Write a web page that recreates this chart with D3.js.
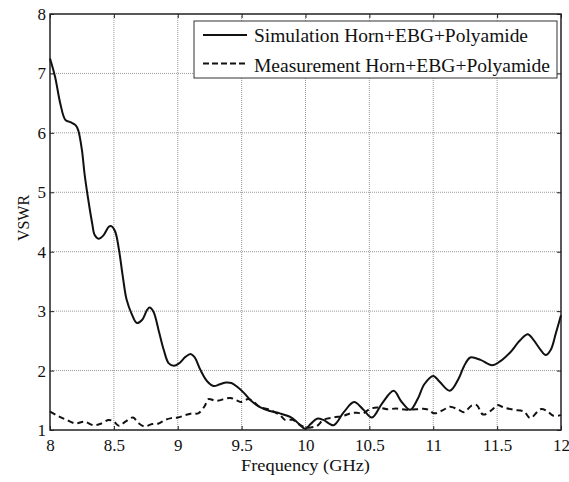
<!DOCTYPE html>
<html>
<head>
<meta charset="utf-8">
<script src="https://cdn.jsdelivr.net/npm/d3@7"></script>
<style>
  body { margin: 0; background: #fff; }
  svg { display: block; }
  text { font-family: "Liberation Serif", "Times New Roman", serif; fill: #111; }
</style>
</head>
<body>
<script>
// data
var simFreq = [8.00, 8.04, 8.08, 8.12, 8.16, 8.20, 8.22, 8.25, 8.27, 8.30, 8.33, 8.35, 8.38, 8.42, 8.46, 8.48,
  8.51, 8.54, 8.57, 8.60, 8.64, 8.68, 8.72, 8.76, 8.78, 8.81, 8.85, 8.89, 8.93, 8.97, 9.01, 9.06, 9.10,
  9.13, 9.18, 9.23, 9.28, 9.33, 9.38, 9.42, 9.47, 9.52, 9.57, 9.64, 9.72, 9.80, 9.88, 9.93, 9.98, 10.00,
  10.04, 10.09, 10.14, 10.22, 10.30, 10.38, 10.45, 10.52, 10.60, 10.69, 10.75, 10.82, 10.88, 10.93, 11.00,
  11.05, 11.13, 11.20, 11.24, 11.29, 11.37, 11.46, 11.52, 11.60, 11.68, 11.74, 11.78, 11.84, 11.88, 11.92,
  11.96, 12.00]
var simVswr = [7.25, 6.94, 6.50, 6.22, 6.18, 6.13, 6.05, 5.71, 5.32, 4.87, 4.48, 4.28, 4.22, 4.28, 4.42, 4.43,
  4.34, 4.03, 3.58, 3.19, 2.95, 2.80, 2.85, 3.02, 3.06, 2.99, 2.68, 2.35, 2.12, 2.08, 2.12, 2.23, 2.28,
  2.23, 2.00, 1.82, 1.74, 1.77, 1.80, 1.79, 1.72, 1.62, 1.50, 1.39, 1.32, 1.28, 1.22, 1.14, 1.04, 1.02,
  1.10, 1.19, 1.17, 1.08, 1.30, 1.47, 1.35, 1.21, 1.45, 1.66, 1.48, 1.34, 1.53, 1.77, 1.91,
  1.81, 1.66, 1.87, 2.07, 2.22, 2.18, 2.09, 2.15, 2.30, 2.51, 2.61, 2.53, 2.35, 2.26, 2.35,
  2.63, 2.93]

var measFreq = [8.00, 8.06, 8.12, 8.20, 8.27, 8.34, 8.39, 8.46, 8.50, 8.54, 8.59, 8.65, 8.69, 8.74, 8.80, 8.85,
  8.90, 8.95, 9.00, 9.06, 9.11, 9.16, 9.21, 9.24, 9.30, 9.41, 9.46, 9.50, 9.55, 9.59, 9.64, 9.72, 9.80,
  9.84, 9.90, 9.96, 10.01, 10.09, 10.14, 10.22, 10.30, 10.35, 10.40, 10.45, 10.50, 10.56, 10.64, 10.71,
  10.79, 10.87, 10.95, 11.01, 11.08, 11.13, 11.20, 11.24, 11.30, 11.34, 11.39, 11.46, 11.50, 11.55, 11.63,
  11.71, 11.76, 11.84, 11.89, 11.94, 12.00]
var measVswr = [1.31, 1.24, 1.18, 1.11, 1.14, 1.08, 1.10, 1.17, 1.14, 1.07, 1.14, 1.21, 1.12, 1.06, 1.10, 1.11,
  1.17, 1.20, 1.21, 1.25, 1.28, 1.28, 1.40, 1.52, 1.49, 1.54, 1.50, 1.47, 1.52, 1.48, 1.39, 1.34, 1.25,
  1.17, 1.17, 1.08, 1.04, 1.07, 1.17, 1.21, 1.24, 1.28, 1.29, 1.28, 1.35, 1.38, 1.35, 1.36,
  1.34, 1.35, 1.35, 1.28, 1.34, 1.39, 1.34, 1.30, 1.41, 1.42, 1.26, 1.34, 1.42, 1.38, 1.34,
  1.31, 1.20, 1.35, 1.32, 1.24, 1.25]

var xTicks = [8, 8.5, 9, 9.5, 10, 10.5, 11, 11.5, 12]
var yTicks = [1, 2, 3, 4, 5, 6, 7, 8]
var legendLabels = ['Simulation Horn+EBG+Polyamide', 'Measurement Horn+EBG+Polyamide']

var svg = d3.select('body').append('svg')
    .attr('width', 569)
    .attr('height', 482)

// plot box edges (window.top is taken, so m-prefixed names)
var mLeft = 50, mRight = 561, mTop = 14, mBottom = 430

var x = d3.scaleLinear().domain([8, 12]).range([mLeft, mRight])
var y = d3.scaleLinear().domain([1, 8]).range([mBottom, mTop])

// grid
var grid = svg.append('g').attr('class', 'grid')
grid.selectAll('.gx').data(xTicks.slice(1, -1)).enter().append('line')
    .attr('x1', d => x(d)).attr('x2', d => x(d))
    .attr('y1', mTop).attr('y2', mBottom)
    .style('stroke', '#999').style('stroke-width', 1).style('stroke-dasharray', '1,1')
grid.selectAll('.gy').data(yTicks.slice(1, -1)).enter().append('line')
    .attr('x1', mLeft).attr('x2', mRight)
    .attr('y1', d => y(d)).attr('y2', d => y(d))
    .style('stroke', '#999').style('stroke-width', 1).style('stroke-dasharray', '1,1')

// axes, ticks point inward like matlab
var fmt = d3.format('')
var gx = svg.append('g').attr('transform', `translate(0,${mBottom})`)
    .call(d3.axisBottom(x).tickValues(xTicks).tickFormat(fmt).tickSizeInner(-4).tickSizeOuter(0).tickPadding(9))
var gy = svg.append('g').attr('transform', `translate(${mLeft},0)`)
    .call(d3.axisLeft(y).tickValues(yTicks).tickFormat(fmt).tickSizeInner(-4).tickSizeOuter(0).tickPadding(4))
svg.append('g').attr('transform', `translate(0,${mTop})`)
    .call(d3.axisTop(x).tickValues(xTicks).tickFormat('').tickSizeInner(-4).tickSizeOuter(0))
svg.append('g').attr('transform', `translate(${mRight},0)`)
    .call(d3.axisRight(y).tickValues(yTicks).tickFormat('').tickSizeInner(-4).tickSizeOuter(0))

gx.attr('font-family', 'Liberation Serif').attr('font-size', 17)
gy.attr('font-family', 'Liberation Serif').attr('font-size', 17)
svg.selectAll('.domain').remove()
svg.selectAll('.tick line').style('stroke', '#222').style('stroke-width', 1)
svg.selectAll('.tick text').attr('font-family', 'Liberation Serif').style('fill', '#111')

// box
svg.append('rect')
    .attr('x', mLeft).attr('y', mTop)
    .attr('width', mRight - mLeft).attr('height', mBottom - mTop)
    .style('fill', 'none').style('stroke', '#222').style('stroke-width', 1.5)

// curves
var line = d3.line().curve(d3.curveCatmullRom.alpha(0.5))
    .x(d => x(d[0])).y(d => y(d[1]))

var simData = simFreq.map((f, i) => [f, simVswr[i]])
var measData = measFreq.map((f, i) => [f, measVswr[i]])

svg.append('path').datum(measData)
    .attr('d', line)
    .style('fill', 'none').style('stroke', '#111').style('stroke-width', 2)
    .style('stroke-dasharray', '6,4')

svg.append('path').datum(simData)
    .attr('d', line)
    .style('fill', 'none').style('stroke', '#111').style('stroke-width', 2)

// axis labels
svg.append('text')
    .attr('x', (mLeft + mRight) / 2).attr('y', 471)
    .attr('text-anchor', 'middle')
    .attr('textLength', 129)
    .attr('lengthAdjust', 'spacingAndGlyphs')
    .style('font-size', '17px')
    .text('Frequency (GHz)')

svg.append('text')
    .attr('transform', 'translate(29,218) rotate(-90)')
    .attr('text-anchor', 'middle')
    .style('font-size', '16px')
    .text('VSWR')

// legend
var lg = svg.append('g').attr('class', 'legend')
lg.append('rect')
    .attr('x', 194).attr('y', 21)
    .attr('width', 363).attr('height', 57)
    .style('fill', '#fff').style('stroke', '#333').style('stroke-width', 1)

lg.selectAll('line').data(legendLabels).enter().append('line')
    .attr('x1', 203).attr('x2', 247)
    .attr('y1', (d, i) => 35 + i * 28.5).attr('y2', (d, i) => 35 + i * 28.5)
    .style('stroke', '#111').style('stroke-width', 2)
    .style('stroke-dasharray', (d, i) => i == 0 ? null : '6,3')

lg.selectAll('text').data(legendLabels).enter().append('text')
    .attr('x', 254).attr('y', (d, i) => 42 + i * 29.5)
    .attr('textLength', (d, i) => i == 0 ? 274 : 296)
    .attr('lengthAdjust', 'spacingAndGlyphs')
    .style('font-size', '18px')
    .text(d => d)
</script>
</body>
</html>
